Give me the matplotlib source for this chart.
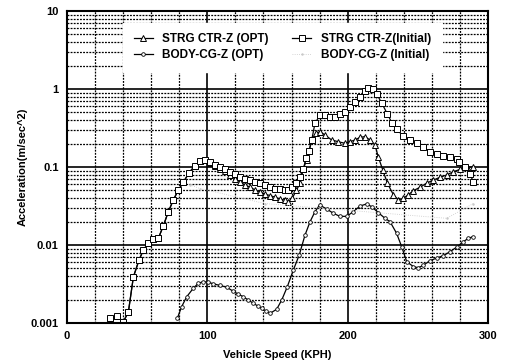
import numpy as np
import matplotlib
matplotlib.use("Agg")
import matplotlib.pyplot as plt
from matplotlib.ticker import FixedLocator, NullFormatter

# STRG CTR-Z (Initial) - squares
strg_init_x = [30.6, 35.4, 40.1, 43.7, 47.3, 51.3, 54.4, 58, 61.5, 65.1, 68.6, 72.2, 75.8,
               79.3, 82.9, 87, 91.2, 94.8, 98.3, 101.9, 105.5, 109, 112.6, 116.2, 119.8,
               123.3, 126.9, 130.4, 134, 137.5, 141.1, 144.7, 148.2, 151.8, 155.4, 157.7,
               160.5, 163.5, 166, 168.4, 170.5, 172.5, 174.4, 176.7, 180.3, 183.9, 187.4,
               191, 194.5, 198.1, 201.7, 205.2, 208.8, 212.4, 214.7, 217.8, 220.7, 224.3,
               228.3, 231.5, 234.9, 239.7, 244.4, 249.2, 253.9, 258.7, 263.4, 268.2,
               272.9, 277.7, 279.6, 283.6, 287.2, 289.5]
strg_init_y = [0.00115, 0.00124, 0.00104, 0.00137, 0.0039, 0.0064, 0.0086, 0.0107, 0.0118,
               0.0122, 0.0175, 0.0267, 0.0378, 0.0507, 0.0637, 0.0846, 0.104, 0.118, 0.122,
               0.115, 0.107, 0.101, 0.094, 0.087, 0.081, 0.075, 0.071, 0.068, 0.065, 0.062,
               0.059, 0.056, 0.053, 0.052, 0.050, 0.050, 0.055, 0.063, 0.075, 0.095, 0.13,
               0.16, 0.222, 0.363, 0.465, 0.465, 0.44, 0.44, 0.478, 0.51, 0.58, 0.687, 0.80,
               0.95, 1.02, 1.0, 0.86, 0.66, 0.478, 0.37, 0.304, 0.249, 0.222, 0.201, 0.179,
               0.157, 0.147, 0.138, 0.133, 0.126, 0.117, 0.101, 0.081, 0.065]

# STRG CTR-Z (OPT) - triangles
strg_opt_x = [30.6, 35.4, 40.1, 43.7, 47.3, 51.3, 54.4, 58, 61.5, 65.1, 68.6, 72.2, 75.8,
              79.3, 82.9, 87, 91.2, 94.8, 98.3, 101.9, 105.5, 109, 112.6, 116.2, 119.8,
              123.3, 126.9, 130.4, 134, 137.5, 141.1, 144.7, 148.2, 151.8, 155.4, 157.7,
              160.5, 163.5, 166, 168.4, 170.8, 172.5, 174.4, 177.5, 180.3, 183.9, 188.6,
              193.3, 198.1, 201.7, 205.2, 208.8, 212.4, 215.9, 219.5, 221.8, 225, 228.3,
              232.6, 236.1, 239.7, 243.2, 246.8, 251.6, 256.3, 261, 265.8, 270.6, 275.3,
              280, 284.8, 289.5]
strg_opt_y = [0.00115, 0.00124, 0.00104, 0.00137, 0.0039, 0.0064, 0.0086, 0.0107, 0.0118,
              0.0122, 0.0175, 0.0267, 0.0378, 0.0507, 0.0637, 0.0846, 0.104, 0.118, 0.122,
              0.112, 0.102, 0.095, 0.088, 0.080, 0.071, 0.064, 0.059, 0.055, 0.051, 0.048,
              0.045, 0.043, 0.041, 0.039, 0.0375, 0.036, 0.040, 0.050, 0.062, 0.095, 0.123,
              0.16, 0.222, 0.27, 0.284, 0.257, 0.222, 0.211, 0.201, 0.211, 0.222, 0.24,
              0.245, 0.222, 0.191, 0.135, 0.092, 0.062, 0.044, 0.0378, 0.0397, 0.044,
              0.0497, 0.055, 0.062, 0.068, 0.0738, 0.079, 0.087, 0.093, 0.1, 0.1]

# BODY-CG-Z (OPT) - small circles
body_opt_x = [78.6, 81.7, 85.3, 90, 93.6, 97.1, 100.7, 104.3, 109, 113.8, 118.5, 122, 125.6,
              129.2, 132.8, 136, 138.7, 141.7, 144.7, 149.4, 153, 157, 161.3, 165.5, 169.6,
              173.2, 176.7, 180, 185, 189.8, 194.5, 199.3, 204, 208.8, 213.5, 217.1, 221.8,
              226.6, 230.2, 234.9, 238.5, 242.1, 246.8, 250.3, 253.9, 258.7, 263.4, 268.2,
              272.9, 277.7, 282.4, 286, 289.5]
body_opt_y = [0.00115, 0.00162, 0.00217, 0.00279, 0.00323, 0.00339, 0.00333, 0.00318,
              0.00303, 0.00288, 0.00255, 0.00235, 0.00217, 0.00197, 0.00179, 0.00165,
              0.00154, 0.00143, 0.00133, 0.0015, 0.00197, 0.00292, 0.00479, 0.00745,
              0.0134, 0.0199, 0.0267, 0.0326, 0.029, 0.0255, 0.0233, 0.0233, 0.0267,
              0.0316, 0.0336, 0.031, 0.026, 0.022, 0.0199, 0.0141, 0.0095, 0.0061, 0.0053,
              0.0051, 0.0055, 0.0063, 0.0068, 0.0073, 0.0082, 0.0094, 0.011, 0.0122, 0.0128]

# BODY-CG-Z (Initial) - barely visible in the scan
body_init_x = [87.6, 94.8, 141, 270.6, 289.5]
body_init_y = [0.059, 0.053, 0.034, 0.022, 0.034]

x_ticks = [0, 100, 200, 300]
y_ticks = [0.001, 0.01, 0.1, 1, 10]
y_tick_labels = ["0.001", "0.01", "0.1", "1", "10"]

plt.rcParams['font.family'] = ['Liberation Sans', 'DejaVu Sans']
plt.rcParams['font.weight'] = 'bold'

fig = plt.figure(figsize=(5.08, 3.64), dpi=100)
ax = fig.add_axes([0.1319, 0.1126, 0.8287, 0.8572])
ax.set_yscale('log')
ax.set_xlim(0, 300)
ax.set_ylim(0.001, 10)

# grid: solid at decades / 100s, dotted for minor
ax.xaxis.set_minor_locator(FixedLocator([v for v in range(20, 300, 20) if v % 100 != 0]))
minor_y = [m * 10.0 ** e for e in range(-3, 1) for m in range(2, 10)]
ax.yaxis.set_minor_locator(FixedLocator(minor_y))
ax.yaxis.set_minor_formatter(NullFormatter())
ax.grid(True, which='major', color='black', linewidth=1.2, linestyle='-')
ax.grid(True, which='minor', color='black', linewidth=0.9, linestyle=(0, (1.5, 1.0)))
ax.set_axisbelow(True)

ax.plot(strg_opt_x, strg_opt_y, color='black', linewidth=0.9, marker='^', markersize=3.7,
        markerfacecolor='white', markeredgewidth=0.7, label='STRG CTR-Z (OPT)')
ax.plot(body_opt_x, body_opt_y, color='black', linewidth=0.9, marker='o', markersize=2.6,
        markerfacecolor='white', markeredgewidth=0.6, label='BODY-CG-Z (OPT)')
ax.plot(strg_init_x, strg_init_y, color='black', linewidth=0.9, marker='s', markersize=3.7,
        markerfacecolor='white', markeredgewidth=0.7, label='STRG CTR-Z(Initial)')
ax.plot(body_init_x, body_init_y, color='#c8c8c8', linewidth=0.6, linestyle=':',
        marker='.', markersize=1.5, label='BODY-CG-Z (Initial)')

ax.set_xticks(x_ticks)
ax.set_yticks(y_ticks)
ax.set_yticklabels(y_tick_labels)
ax.tick_params(which='both', length=0, labelsize=8, pad=6)
for lab in ax.get_xticklabels() + ax.get_yticklabels():
    lab.set_fontweight('bold')

for sp in ax.spines.values():
    sp.set_linewidth(1.5)
    sp.set_color('black')

ax.set_xlabel('Vehicle Speed (KPH)', fontsize=8, fontweight='bold', labelpad=6)
ax.set_ylabel('Acceleration(m/sec^2)', fontsize=8, fontweight='bold', labelpad=2)

leg = ax.legend(loc='upper left', bbox_to_anchor=(0.12, 0.981), ncol=2,
                frameon=True, fancybox=False, handlelength=1.6, columnspacing=2.0,
                borderpad=0.9, labelspacing=0.3, prop={'weight': 'bold', 'size': 8.5})
leg.get_frame().set_edgecolor('white')
leg.get_frame().set_facecolor('white')
leg.get_frame().set_alpha(1)

fig.savefig('out.png', dpi=100)
